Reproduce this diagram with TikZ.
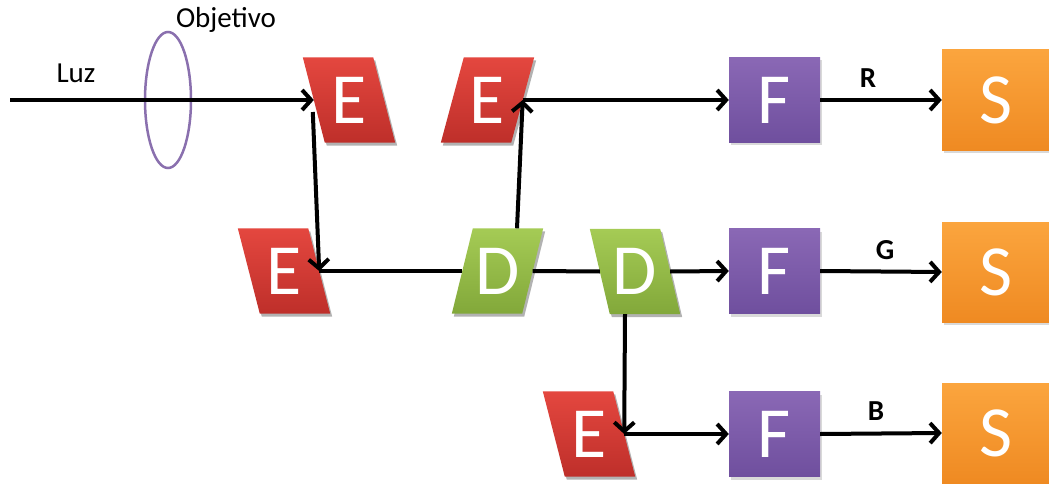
\documentclass[tikz,border=0pt]{standalone}
\usepackage{fontspec}
\setmainfont{Carlito}
\usetikzlibrary{shapes.geometric,arrows.meta,calc,backgrounds,shadows}
\definecolor{Etop}{HTML}{E4473F}
\definecolor{Ebot}{HTML}{BE2F2A}
\definecolor{Dtop}{HTML}{A5CB55}
\definecolor{Dbot}{HTML}{82A83A}
\definecolor{Ftop}{HTML}{8A68B5}
\definecolor{Fbot}{HTML}{6F4F9E}
\definecolor{Stop}{HTML}{FBA53E}
\definecolor{Sbot}{HTML}{EF8A22}
\definecolor{lens}{HTML}{8A70AE}
\tikzset{
  arr/.style={line width=4pt, line join=round, -{Straight Barb[length=9pt,width=20pt]}},
  plain/.style={line width=4pt},
  pbox/.style={minimum width=70pt, minimum height=85pt, inner sep=0pt, text=white,
    font=\fontsize{72}{72}\selectfont},
  fbox/.style={pbox, minimum width=91pt, top color=Ftop, bottom color=Fbot,
    drop shadow={opacity=0.3, shadow xshift=2pt, shadow yshift=-3pt}},
  sbox/.style={pbox, minimum width=108pt, minimum height=100pt, top color=Stop, bottom color=Sbot,
    drop shadow={opacity=0.3, shadow xshift=2pt, shadow yshift=-3pt}},
  lbl/.style={inner sep=0pt, font=\fontsize{29}{29}\selectfont\bfseries},
  txt/.style={inner sep=0pt, font=\fontsize{29}{29}\selectfont},
  lensst/.style={ellipse, draw=lens, line width=2.5pt, minimum width=46pt, minimum height=136pt, inner sep=0pt}
}
% #1 name, #2 x, #3 y, #4 slant, #5 colour prefix, #6 letter
\newcommand\slantbox[6]{%
  \node[pbox] (#1) at (#2,#3) {#6};
  \begin{scope}[on background layer]
    \fill[black, opacity=0.3]
      ($(#1.north west)+({-1*(#4)+2},3)$) -- ($(#1.north east)+({-1*(#4)+2},3)$) --
      ($(#1.south east)+({#4+2},3)$) -- ($(#1.south west)+({#4+2},3)$) -- cycle;
    \shade[top color=#5top, bottom color=#5bot]
      ($(#1.north west)+({-1*(#4)},0)$) -- ($(#1.north east)+({-1*(#4)},0)$) --
      ($(#1.south east)+(#4,0)$) -- ($(#1.south west)+(#4,0)$) -- cycle;
  \end{scope}
}
\begin{document}
\begin{tikzpicture}[x=1pt, y=-1pt]
\useasboundingbox (0,0) rectangle (1049,484);
% lens and labels
\node[lensst] (lensn) at (168,100) {};
\node[txt] (objetivo) at (226,20) {Objetivo};
\node[txt] (luz) at (76,73) {Luz};
% slanted boxes
\slantbox{E1}{349}{100}{11}{E}{E}
\slantbox{E2}{487.5}{100}{-11.5}{E}{E}
\slantbox{E3}{284}{271}{11}{E}{E}
\slantbox{D1}{497.5}{271}{-10.5}{D}{D}
\slantbox{D2}{635}{271.5}{10}{D}{D}
\slantbox{E4}{589}{434}{11}{E}{E}
% filters and sensors
\node[fbox] (F1) at (774.5,100) {F};
\node[fbox] (F2) at (774.5,271) {F};
\node[fbox] (F3) at (774.5,434) {F};
\node[sbox] (S1) at (996,100) {S};
\node[sbox] (S2) at (996,272) {S};
\node[sbox] (S3) at (996,433) {S};
% connectors
\coordinate (start) at (10,100);
\draw[arr] (start) -- (E1.west);
\draw[arr] ($(E1.west)+(-1,12)$) -- (E3.east);
\draw[plain] (E3.east) -- (D1.west);
\draw[plain] (D1.east) -- (D2.west);
\draw[arr] (D2.east) -- (F2.west);
\draw[arr] ($(D1.north)+(19.5,0)$) -- (E2.east);
\draw[arr] (E2.east) -- (F1.west);
\draw[arr] ($(D2.south)+(-10,0)$) -- (E4.east);
\draw[arr] (E4.east) -- (F3.west);
\draw[arr] (F1.east) -- (S1.west);
\draw[arr] (F2.east) -- (S2.west);
\draw[arr] (F3.east) -- (S3.west);
\node[lbl] (lR) at (868,78) {R};
\node[lbl] (lG) at (885,250) {G};
\node[lbl] (lB) at (876,411) {B};
\end{tikzpicture}
\end{document}
